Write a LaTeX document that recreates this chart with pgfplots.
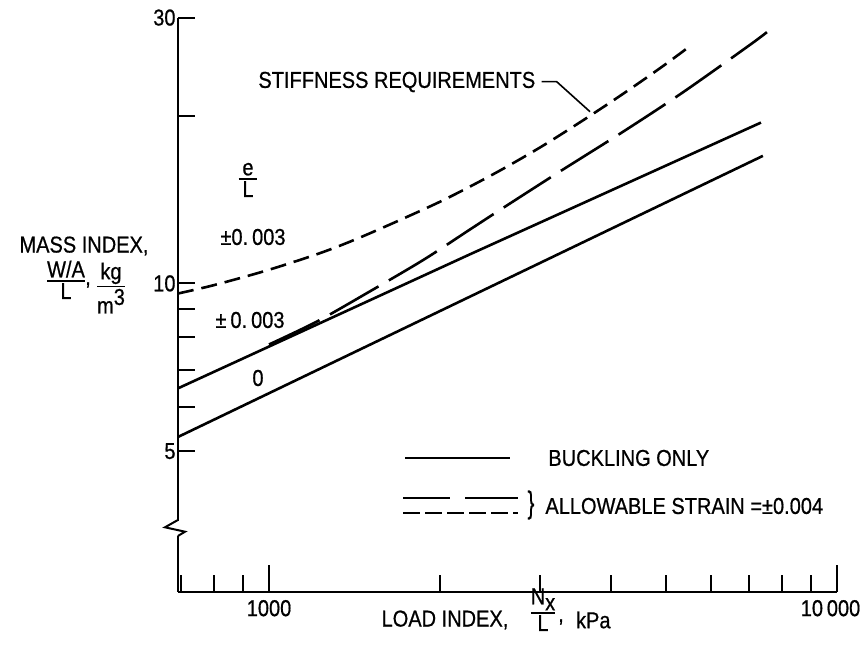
\documentclass[border=0pt]{standalone}
\usepackage{amsmath}
\usepackage{graphicx}
\usepackage{fontspec}
\setmainfont{Liberation Sans}[FakeStretch=0.87,FakeBold=0.6]
\usepackage{pgfplots}
\pgfplotsset{compat=1.18}
\newcommand{\fr}[2]{$\genfrac{}{}{0.8pt}{1}{\hbox{#1}}{\hbox{#2}}$}
\begin{document}
\fontsize{11.5}{13.8}\selectfont
\begin{tikzpicture}
\begin{axis}[
  scale only axis, width=329.3pt, height=287.2pt,
  xmode=log, ymode=log,
  xmin=691, xmax=10000, ymin=2.793, ymax=30,
  axis lines=left,
  axis line style={-, line width=1pt},
  tick align=inside,
  major tick length=13.5pt, minor tick length=8.5pt,
  tick style={line width=1pt, black},
  xtick={1000,10000}, xticklabels={1000,\hspace*{-6pt}10\,000},
  minor xtick={700,800,900,2000,3000,4000,5000,6000,7000,8000,9000},
  ytick={5,10,30}, yticklabels={5,10,30},
  minor ytick={5,6,7,8,9,10,20,30},
  every major y tick/.append style={draw=none},
  tick label style={font=\fontsize{11.5}{13.8}\selectfont},
  yticklabel style={inner xsep=1pt},
  clip=false,
]
\addplot[line width=1.3pt] coordinates {(691,5.30) (2261,9.47) (7418,16.94)};
\addplot[line width=1.3pt] coordinates {(691,6.48) (2261,11.28) (7360,19.44)};
\addplot[line width=1.3pt, dash pattern=on 28pt off 6pt, smooth] coordinates {
  (1000,7.77) (1214,8.54) (1486,9.60) (1871,11.02) (2261,12.50) (2553,13.55)
  (3213,15.75) (4210,18.73) (5370,22.05) (7038,26.8) (7541,28.25)};
\addplot[line width=1.3pt, dash pattern=on 8pt off 4pt, smooth] coordinates {
  (691,9.59) (800,9.93) (1000,10.58) (1250,11.40) (1500,12.28) (2000,14.01)
  (2500,15.76) (3000,17.53) (3500,19.35) (4000,21.15) (4500,22.95) (5000,24.75)
  (5556,26.8)};
\end{axis}
\begin{scope}[shift={(-88.95pt,296pt)}, x=0.5pt, y=-0.5pt]
  % axis break
  \fill[white] (173,520.5) rectangle (183,535.5);
  \draw[line width=1pt] (177.9,520)--(165,527.3)--(185,531.7)--(177.9,536);
  % y label
  \node at (84,246) {MASS INDEX,};
  \node[anchor=base] at (66,286.75) {\fr{W/A}{L}};
  \node at (88,285) {,};
  \node[anchor=base] at (111,292.5) {\fr{kg}{m\raisebox{0.7ex}{3}}};
  % annotations
  \node[anchor=west, inner xsep=0pt] at (258,82) {STIFFNESS REQUIREMENTS};
  \draw[line width=0.8pt] (541.7,81.7)--(556.7,81.7)--(590,111.7);
  \node[anchor=base] at (248,184.75) {\fr{\,e\,}{L}};
  \node at (253,237) {±0.\kern2pt003};
  \node at (250,320) {±\kern2pt0.\kern2pt003};
  \node at (258,378) {0};
  % legend
  \draw[line width=1.3pt] (405,458)--(510,458);
  \node[anchor=west, inner xsep=0pt] at (548,458) {BUCKLING ONLY};
  \draw[line width=1.3pt] (403,498)--(450,498) (465,498)--(518,498);
  \draw[line width=1.3pt, dash pattern=on 8.5pt off 2.5pt] (403,513)--(518,513);
  \node at (531,505) {\scalebox{1}[1.35]{\}}};
  \node[anchor=west, inner xsep=0pt] at (545,506) {ALLOWABLE STRAIN =±0.004};
  % x label
  \node at (445,620) {LOAD INDEX,};
  \node[anchor=base] at (543,618.75) {\fr{N\raisebox{-0.5ex}{x}}{L}};
  \node at (561,622) {,};
  \node[anchor=west] at (568,620) {kPa};
\end{scope}
\pgfresetboundingbox
\path[shift={(-88.95pt,296pt)}, x=0.5pt, y=-0.5pt] (0,0) rectangle (862,659);
\end{tikzpicture}
\end{document}
